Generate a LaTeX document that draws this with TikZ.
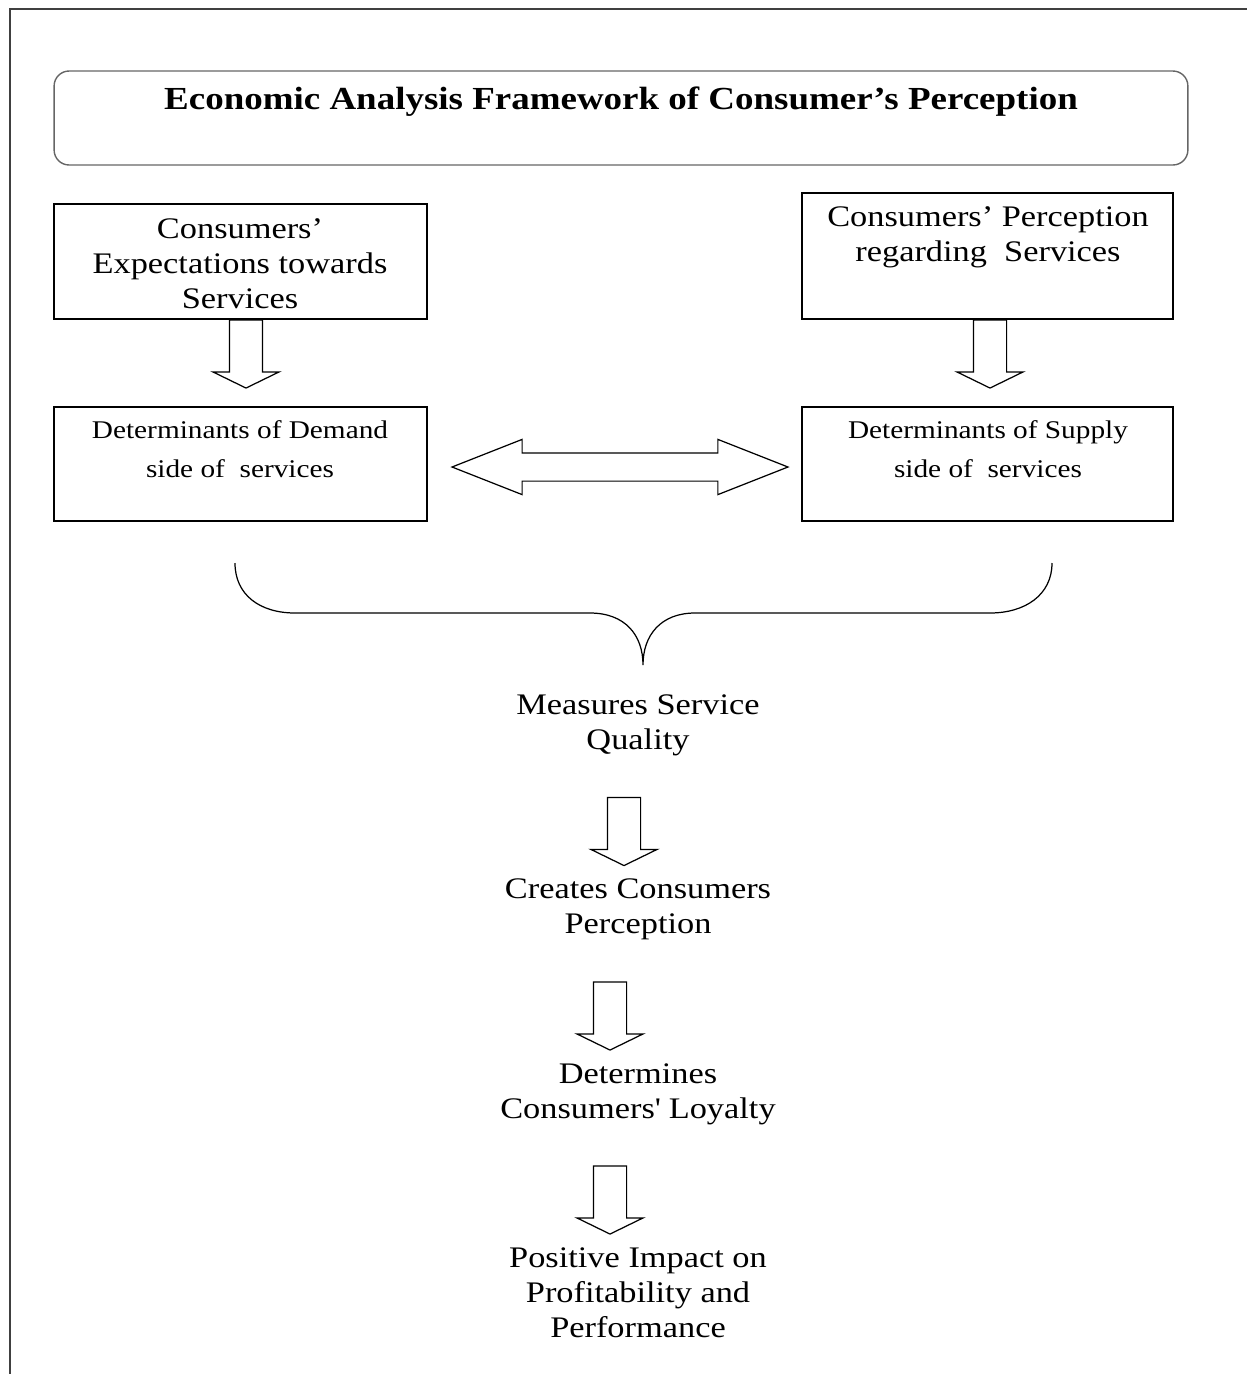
\documentclass[tikz,border=0pt]{standalone}
\usepackage{fontspec}
\setmainfont{Liberation Serif}[FakeStretch=1.15]
\usetikzlibrary{shapes.arrows,positioning}

\begin{document}
\begin{tikzpicture}[x=0.02cm, y=-0.02cm,
  box/.style={draw, line width=0.8pt, minimum width=#1, inner sep=0pt},
  txt/.style={align=center, inner sep=0pt, font=\fontsize{17}{20}\selectfont},
  small/.style={align=center, inner sep=0pt, font=\fontsize{14.5}{22.2}\selectfont},
  down/.style={single arrow, draw, line width=0.7pt, shape border rotate=270, minimum height=1.36cm, inner sep=0.32cm, single arrow head extend=0.33cm, single arrow tip angle=128}]
\useasboundingbox (0,0) rectangle (1247,1374);
\draw[line width=1pt, black!75] (10,1374) -- (10,9) -- (1247,9);
% title
\node[box=22.68cm, minimum height=1.88cm, draw=black!60, rounded corners=0.3cm] (title) at (621,118) {};
\node[font=\bfseries\fontsize{18.3}{22}\selectfont, inner sep=0pt] (titleT) at (621,102) {Economic Analysis Framework of Consumer’s Perception};
% upper boxes
\node[box=7.46cm, minimum height=2.3cm] (expect) at (240.5,261.5) {};
\node[txt] (expectT) at (240,263.5) {Consumers’\\Expectations towards\\Services};
\node[box=7.42cm, minimum height=2.52cm] (percep) at (987.5,256) {};
\node[txt] (percepT) at (988,237) {Consumers’ Perception\\regarding~~Services};
\node[down] (expDown) at (246,350) {}; \node[down] (perDown) at (990,350) {};
% determinants
\node[box=7.46cm, minimum height=2.28cm] (demand) at (240.5,464) {};
\node[small] (demandT) at (240,449.5) {Determinants of Demand\\side of~~services};
\node[box=7.42cm, minimum height=2.28cm] (supply) at (987.5,464) {};
\node[small] (supplyT) at (988,449) {Determinants of Supply\\side of~~services};
\node[double arrow, draw, line width=0.7pt, minimum height=6.72cm, inner sep=0.27cm, double arrow head extend=0.27cm, double arrow tip angle=43] (link) at (620,467) {};
% brace
\draw[line width=0.7pt] (235,563) .. controls (235,595) and (260,613) .. (295,613) -- (590,613) .. controls (625,613) and (643,635) .. (643,665) .. controls (643,635) and (661,613) .. (695,613) -- (990,613) .. controls (1025,613) and (1052,595) .. (1052,563);
% chain
\node[txt] (quality) at (638,725) {Measures Service\\Quality};
\node[down] (qDown) at (624,827.5) {};
\node[txt] (creates) at (638,909) {Creates Consumers\\Perception};
\node[down] (cDown) at (610,1012) {};
\node[txt] (loyalty) at (638,1094) {Determines\\Consumers\textquotesingle\ Loyalty};
\node[down] (lDown) at (610,1196) {};
\node[txt] (impact) at (638,1293) {Positive Impact on\\Profitability and\\Performance};
\end{tikzpicture}
\end{document}
